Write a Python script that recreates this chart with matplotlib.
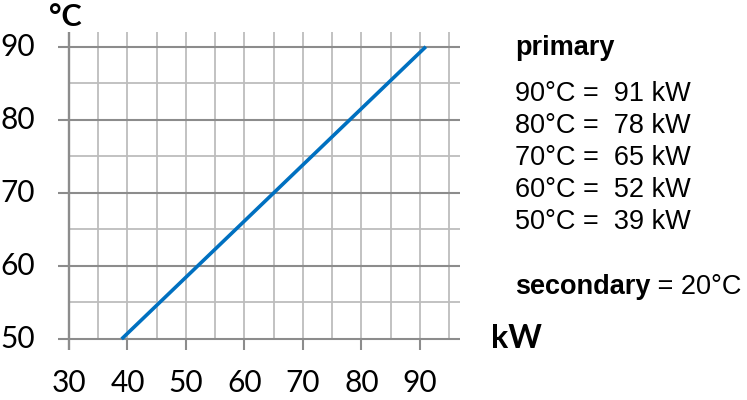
import matplotlib.pyplot as plt

# primary power per primary temperature (secondary = 20 °C)
kw = [39, 52, 65, 78, 91]
temp = [50, 60, 70, 80, 90]
x_ticks = [30, 40, 50, 60, 70, 80, 90]
y_ticks = [50, 60, 70, 80, 90]
legend_lines = ['90°C =  91 kW', '80°C =  78 kW', '70°C =  65 kW', '60°C =  52 kW', '50°C =  39 kW']

W, H = 747, 400
fig = plt.figure(figsize=(W / 100, H / 100), dpi=100)
ax = fig.add_axes([0, 0, 1, 1])

# pixel mapping: 30 kW -> px 69, 90 kW -> px 420; 50 °C -> px 339, 90 °C -> px 46.7
sx = (420 - 69) / 60.0
sy = (339 - 46.7) / 40.0
ax.set_xlim(30 - 69 / sx, 30 + (W - 69) / sx)
ax.set_ylim(50 - (H - 339) / sy, 50 + 339 / sy)
ax.axis('off')

major = '#8c8c8c'
minor = '#bdbdbd'
lw = 1.3

# minor horizontal lines
for y in [55, 65, 75, 85]:
    ax.hlines(y, 30, 96.8, color=minor, lw=lw, zorder=1)
# vertical lines
for x in range(35, 100, 5):
    ax.vlines(x, 50, 92, color=minor, lw=lw, zorder=1)
# major horizontal lines
for y in y_ticks:
    ax.hlines(y, 28.2, 96.8, color=major, lw=lw + 0.2, zorder=2)
# left axis and bottom ticks
ax.vlines(30, 48.5, 92, color=major, lw=lw + 0.4, zorder=2)
for x in x_ticks[1:]:
    ax.vlines(x, 48.5, 50, color=major, lw=lw + 0.2, zorder=2)

ax.plot([kw[0], kw[-1]], [temp[0], temp[-1]], color='#0070c0', lw=2.6,
        solid_capstyle='butt', zorder=3)

tick_font = 'Lato'
for x in x_ticks:
    ax.text(x, 50 - (383 - 339) / sy, str(x), ha='center', va='center',
            fontsize=21.5, family=tick_font)
for y in y_ticks:
    ax.text(30 - 34 / sx, y, str(y), ha='right', va='center',
            fontsize=21.5, family=tick_font)

fig.text(65 / W, 1 - 17 / H, '°C', ha='center', va='center', fontsize=22,
         fontweight='bold', family=tick_font)
fig.text(516 / W, 1 - 338 / H, 'kW', ha='center', va='center', fontsize=23,
         fontweight='bold', family=tick_font)

side = 'Liberation Sans'
fs = 19.5
fig.text(515 / W, 1 - 48 / H, 'primary', ha='left', va='center', fontsize=fs,
         fontweight='bold', family=side)
for i, s in enumerate(legend_lines):
    fig.text(515 / W, 1 - (94 + 32 * i) / H, s, ha='left', va='center',
             fontsize=fs, family=side)
t = fig.text(515 / W, 1 - 287 / H, 'secondary', ha='left', va='center',
             fontsize=fs, fontweight='bold', family=side)
fig.canvas.draw()
bb = t.get_window_extent()
fig.text(bb.x1 / W, 1 - 287 / H, ' = 20°C', ha='left', va='center',
         fontsize=fs, family=side)

fig.savefig('out.png', dpi=100)
